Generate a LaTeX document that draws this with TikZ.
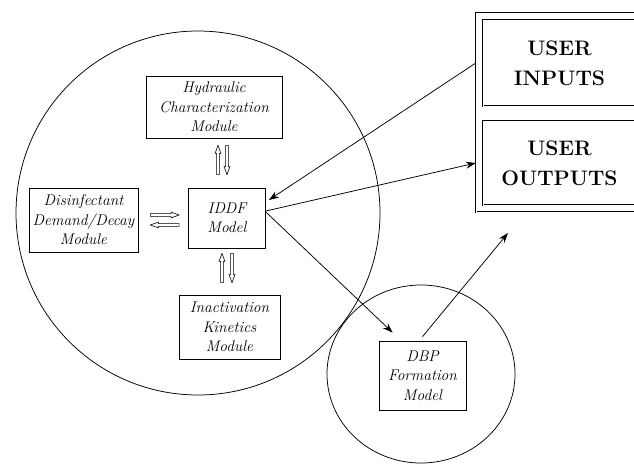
\documentclass[tikz,border=0pt]{standalone}
\usepackage{tikz}
\usetikzlibrary{arrows.meta,shapes,positioning,calc}
\tikzstyle{module} = [draw, rectangle, line width=0.75pt, align=center, inner sep=2pt, font=\fontsize{15.5}{19.5}\selectfont\itshape]
\tikzstyle{userbox} = [draw, rectangle, double, double distance=1pt, align=center, font=\fontsize{21}{30}\selectfont\bfseries]
\tikzstyle{arrow} = [line width=0.75pt,-{Stealth[length=10pt,width=7pt]}]
% hollow exchange arrow, drawn as one closed outline
\tikzstyle{dblarrow} = [line width=0.6pt, fill=white, to path={
  ($(\tikztotarget)!8pt!(\tikztostart)$) coordinate (hb)
  ($(\tikztostart)!1.4pt!90:(\tikztotarget)$) -- ($(hb)!1.4pt!-90:(\tikztostart)$)
  -- ($(hb)!2.9pt!-90:(\tikztostart)$) -- (\tikztotarget)
  -- ($(hb)!2.9pt!90:(\tikztostart)$) -- ($(hb)!1.4pt!90:(\tikztostart)$)
  -- ($(\tikztostart)!1.4pt!-90:(\tikztotarget)$) -- cycle}]

\begin{document}
\begin{tikzpicture}[x=1pt, y=-1pt]
\useasboundingbox (0,0) rectangle (634,463);
% IDDF circle and its modules
\draw[line width=0.75pt] (198,213) circle (182);
\node[module, minimum width=136pt, minimum height=62pt] (hyd) at (214,107) {Hydraulic\\Characterization\\Module};
\node[module, minimum width=77pt, minimum height=60pt] (iddf) at (227,218) {IDDF\\Model};
\node[module, minimum width=109pt, minimum height=64pt] (dis) at (83.5,220) {Disinfectant\\Demand/Decay\\Module};
\node[module, minimum width=101pt, minimum height=64pt] (inact) at (229.5,327) {Inactivation\\Kinetics\\Module};

% DBP circle
\draw[line width=0.75pt] (421,374) ellipse (94 and 89);
\node[module, minimum width=87pt, minimum height=69pt] (dbp) at (422.5,375.5) {DBP\\Formation\\Model};

% user frame (runs off the right edge)
\node[draw, rectangle, double, double distance=1pt, minimum width=164pt, minimum height=199pt] (frame) at (558,112.5) {};
\node[userbox, minimum width=153pt, minimum height=86pt] (inputs) at (559.5,63) {USER\\INPUTS};
\node[userbox, minimum width=153pt, minimum height=84pt] (outputs) at (559.5,163) {USER\\OUTPUTS};
\coordinate (up) at (508,233);

% module exchanges
\draw[dblarrow] ([xshift=-9pt,yshift=13pt]iddf.north) to ([xshift=4pt,yshift=-7pt]hyd.south);
\draw[dblarrow] ([xshift=13pt,yshift=-7pt]hyd.south) to ([yshift=13pt]iddf.north);
\draw[dblarrow] ([xshift=-7.5pt,yshift=12pt]inact.north) to ([xshift=-5pt,yshift=-5pt]iddf.south);
\draw[dblarrow] ([xshift=5pt,yshift=-5pt]iddf.south) to ([xshift=2.5pt,yshift=12pt]inact.north);
\draw[dblarrow] ([xshift=12pt,yshift=5pt]dis.east) to ([xshift=-9pt,yshift=3pt]iddf.west);
\draw[dblarrow] ([xshift=-9pt,yshift=-7pt]iddf.west) to ([xshift=12pt,yshift=-5pt]dis.east);

% data flow
\draw[arrow] (inputs.west -| frame.west) -- ([xshift=3pt,yshift=18pt]iddf.east);
\draw[arrow] ([yshift=7pt]iddf.east) -- (outputs.west -| frame.west);
\draw[arrow] ([yshift=6pt]iddf.east) -- ([shift={(14pt,8pt)}]dbp.north west);
\draw[arrow] ([yshift=4pt]dbp.north) -- (up);
\end{tikzpicture}
\end{document}
